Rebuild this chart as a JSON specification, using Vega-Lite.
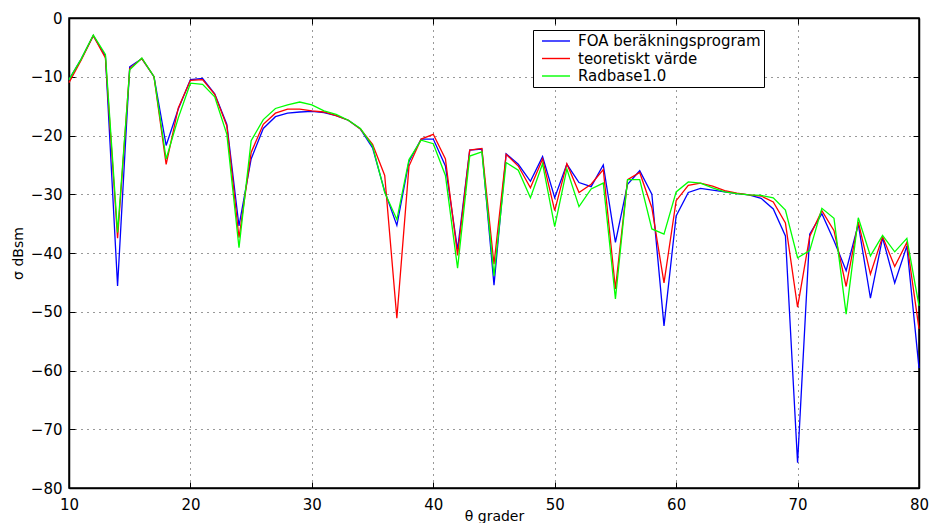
{
  "$schema": "https://vega.github.io/schema/vega-lite/v6.json",
  "width": 850,
  "height": 470,
  "autosize": {"type": "none"},
  "padding": {"left": 69, "top": 18, "right": 14, "bottom": 35},
  "background": "white",
  "config": {
    "font": "DejaVu Sans",
    "view": {"stroke": "black", "strokeWidth": 1.5},
    "axis": {
      "labelFont": "DejaVu Sans",
      "labelFontSize": 15,
      "labelColor": "black",
      "labelFlush": false,
      "labelOverlap": false,
      "titleFont": "DejaVu Sans",
      "titleFontWeight": "normal",
      "titleColor": "black",
      "domainColor": "black",
      "domainWidth": 1.5,
      "tickColor": "black",
      "tickWidth": 1,
      "tickSize": -6,
      "gridColor": "#333333",
      "gridDash": [1, 5],
      "gridWidth": 1
    }
  },
  "data": {
    "values": [
      {"t": 10, "FOA": -10.5, "teori": -11, "Radbase": -10.5},
      {"t": 11, "FOA": -7, "teori": -7.2, "Radbase": -7},
      {"t": 12, "FOA": -3, "teori": -3, "Radbase": -2.9},
      {"t": 13, "FOA": -6.5, "teori": -6.8, "Radbase": -6.2},
      {"t": 14, "FOA": -45.6, "teori": -37.5, "Radbase": -36.5},
      {"t": 15, "FOA": -8.3, "teori": -8.6, "Radbase": -8.8},
      {"t": 16, "FOA": -6.9, "teori": -6.9, "Radbase": -6.8},
      {"t": 17, "FOA": -10, "teori": -10, "Radbase": -10},
      {"t": 18, "FOA": -21.7, "teori": -24.9, "Radbase": -24},
      {"t": 19, "FOA": -15.5, "teori": -15.3, "Radbase": -17},
      {"t": 20, "FOA": -10.5, "teori": -10.6, "Radbase": -11.1},
      {"t": 21, "FOA": -10.3, "teori": -10.5, "Radbase": -11.3},
      {"t": 22, "FOA": -12.9, "teori": -13, "Radbase": -13.4},
      {"t": 23, "FOA": -18.1, "teori": -18.4, "Radbase": -19.8},
      {"t": 24, "FOA": -35.4, "teori": -37.4, "Radbase": -39.1},
      {"t": 25, "FOA": -24, "teori": -22.9, "Radbase": -20.9},
      {"t": 26, "FOA": -18.8, "teori": -18.1, "Radbase": -17.3},
      {"t": 27, "FOA": -16.8, "teori": -16.2, "Radbase": -15.4},
      {"t": 28, "FOA": -16.2, "teori": -15.5, "Radbase": -14.8},
      {"t": 29, "FOA": -16, "teori": -15.5, "Radbase": -14.3},
      {"t": 30, "FOA": -15.9, "teori": -15.8, "Radbase": -14.8},
      {"t": 31, "FOA": -16.1, "teori": -16, "Radbase": -15.8},
      {"t": 32, "FOA": -16.6, "teori": -16.6, "Radbase": -16.4},
      {"t": 33, "FOA": -17.4, "teori": -17.4, "Radbase": -17.4},
      {"t": 34, "FOA": -18.9, "teori": -18.9, "Radbase": -18.8},
      {"t": 35, "FOA": -22.1, "teori": -21.5, "Radbase": -21.8},
      {"t": 36, "FOA": -29.5, "teori": -26.8, "Radbase": -29.7},
      {"t": 37, "FOA": -35.3, "teori": -51.1, "Radbase": -34.3},
      {"t": 38, "FOA": -24.4, "teori": -25.2, "Radbase": -24.1},
      {"t": 39, "FOA": -20.6, "teori": -20.6, "Radbase": -20.8},
      {"t": 40, "FOA": -20.6, "teori": -19.8, "Radbase": -21.4},
      {"t": 41, "FOA": -25.2, "teori": -24, "Radbase": -26.8},
      {"t": 42, "FOA": -39.4, "teori": -40.4, "Radbase": -42.6},
      {"t": 43, "FOA": -22.5, "teori": -22.5, "Radbase": -23.5},
      {"t": 44, "FOA": -22.3, "teori": -22.2, "Radbase": -22.8},
      {"t": 45, "FOA": -45.5, "teori": -41.9, "Radbase": -43.9},
      {"t": 46, "FOA": -23.1, "teori": -23.2, "Radbase": -24.6},
      {"t": 47, "FOA": -24.9, "teori": -25.2, "Radbase": -25.9},
      {"t": 48, "FOA": -27.8, "teori": -28.9, "Radbase": -30.6},
      {"t": 49, "FOA": -23.6, "teori": -24, "Radbase": -24.8},
      {"t": 50, "FOA": -30.6, "teori": -32.8, "Radbase": -35.5},
      {"t": 51, "FOA": -24.9, "teori": -24.8, "Radbase": -25.7},
      {"t": 52, "FOA": -28, "teori": -29.7, "Radbase": -32.1},
      {"t": 53, "FOA": -28.7, "teori": -28.3, "Radbase": -29.1},
      {"t": 54, "FOA": -25, "teori": -25.8, "Radbase": -28.1},
      {"t": 55, "FOA": -38.2, "teori": -46.1, "Radbase": -47.8},
      {"t": 56, "FOA": -28.3, "teori": -27.5, "Radbase": -27.5},
      {"t": 57, "FOA": -26, "teori": -26.3, "Radbase": -27.5},
      {"t": 58, "FOA": -30, "teori": -32.3, "Radbase": -35.9},
      {"t": 59, "FOA": -52.4, "teori": -45.1, "Radbase": -36.8},
      {"t": 60, "FOA": -33.7, "teori": -31.1, "Radbase": -29.6},
      {"t": 61, "FOA": -29.7, "teori": -28.5, "Radbase": -27.9},
      {"t": 62, "FOA": -29, "teori": -28.1, "Radbase": -28.1},
      {"t": 63, "FOA": -29.3, "teori": -28.6, "Radbase": -28.9},
      {"t": 64, "FOA": -29.6, "teori": -29.4, "Radbase": -29.6},
      {"t": 65, "FOA": -29.9, "teori": -29.8, "Radbase": -29.9},
      {"t": 66, "FOA": -30.1, "teori": -30.1, "Radbase": -30.1},
      {"t": 67, "FOA": -30.7, "teori": -30.3, "Radbase": -30.2},
      {"t": 68, "FOA": -32.5, "teori": -31.3, "Radbase": -30.6},
      {"t": 69, "FOA": -37.1, "teori": -34.9, "Radbase": -32.7},
      {"t": 70, "FOA": -75.7, "teori": -49.2, "Radbase": -40.8},
      {"t": 71, "FOA": -36.8, "teori": -37.2, "Radbase": -39.6},
      {"t": 72, "FOA": -33.3, "teori": -32.8, "Radbase": -32.4},
      {"t": 73, "FOA": -37.9, "teori": -36.2, "Radbase": -34.1},
      {"t": 74, "FOA": -43, "teori": -45.7, "Radbase": -50.4},
      {"t": 75, "FOA": -35.1, "teori": -34.7, "Radbase": -34},
      {"t": 76, "FOA": -47.7, "teori": -43.6, "Radbase": -40.5},
      {"t": 77, "FOA": -37.4, "teori": -37.2, "Radbase": -37},
      {"t": 78, "FOA": -45.1, "teori": -42.3, "Radbase": -39.8},
      {"t": 79, "FOA": -38.8, "teori": -38.2, "Radbase": -37.5},
      {"t": 80, "FOA": -59.6, "teori": -52.9, "Radbase": -49}
    ]
  },
  "transform": [{"fold": ["FOA", "teori", "Radbase"], "as": ["serie", "dB"]}],
  "layer": [
    {
      "mark": {"type": "line", "strokeWidth": 1.3},
      "encoding": {
        "x": {
          "field": "t",
          "type": "quantitative",
          "scale": {"domain": [10, 80], "nice": false, "zero": false},
          "axis": {
            "orient": "bottom",
            "values": [10, 20, 30, 40, 50, 60, 70, 80],
            "title": "θ grader",
            "titleFontSize": 14,
            "titlePadding": -3,
            "labelPadding": 15,
            "grid": true
          }
        },
        "y": {
          "field": "dB",
          "type": "quantitative",
          "scale": {"domain": [-80, 0], "nice": false, "zero": false},
          "axis": {
            "orient": "left",
            "values": [-80, -70, -60, -50, -40, -30, -20, -10, 0],
            "title": "σ dBsm",
            "titleFontSize": 14,
            "titlePadding": 5,
            "labelPadding": 13,
            "grid": true
          }
        },
        "color": {
          "field": "serie",
          "type": "nominal",
          "scale": {
            "domain": ["FOA", "teori", "Radbase"],
            "range": ["#0000ff", "#ff0000", "#00ff00"]
          },
          "legend": {
            "orient": "none",
            "legendX": 464,
            "legendY": 12,
            "title": null,
            "strokeColor": "black",
            "fillColor": "white",
            "padding": 3,
            "rowPadding": 1.5,
            "symbolType": "M-2,0H2",
            "symbolSize": 196,
            "symbolStrokeWidth": 1.4,
            "symbolOffset": 12,
            "labelOffset": 14,
            "labelLimit": 400,
            "labelFont": "DejaVu Sans",
            "labelFontSize": 15,
            "labelColor": "black",
            "labelExpr": "datum.label == 'FOA' ? 'FOA beräkningsprogram' : datum.label == 'teori' ? 'teoretiskt värde' : 'Radbase1.0'"
          }
        }
      }
    },
    {
      "mark": {"type": "point", "opacity": 0},
      "encoding": {
        "x": {
          "field": "t",
          "type": "quantitative",
          "axis": {"orient": "top", "values": [10, 20, 30, 40, 50, 60, 70, 80], "labels": false, "grid": false, "title": null}
        },
        "y": {
          "field": "dB",
          "type": "quantitative",
          "axis": {"orient": "right", "values": [-80, -70, -60, -50, -40, -30, -20, -10, 0], "labels": false, "grid": false, "title": null}
        }
      }
    }
  ],
  "resolve": {"axis": {"x": "independent", "y": "independent"}}
}
